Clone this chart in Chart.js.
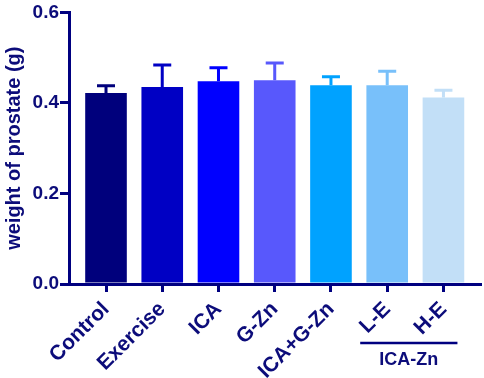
<!DOCTYPE html>
<html>
<head>
<meta charset="utf-8">
<script src="https://cdn.jsdelivr.net/npm/chart.js@4/dist/chart.umd.min.js"></script>
<style>
  html, body { margin: 0; padding: 0; background: #fff; }
</style>
</head>
<body>
<canvas id="myChart" width="484" height="378"></canvas>
<script>
// groups and values
var groups = ['Control', 'Exercise', 'ICA', 'G-Zn', 'ICA+G-Zn', 'L-E', 'H-E'];
var means = [0.422, 0.435, 0.448, 0.450, 0.439, 0.439, 0.412];
var errs = [0.016, 0.049, 0.030, 0.038, 0.019, 0.031, 0.016];
var colors = ['#00007c', '#0000c4', '#0000ff', '#5858fc', '#00a2ff', '#78c0fa', '#c2dff7'];
var yTicks = [0, 0.2, 0.4, 0.6];
var bracketLabel = 'ICA-Zn';

var navy = '#000080';
var textNavy = '#0c0c7a';

var points = [];
for (let i = 0; i < groups.length; i++) {
    points.push({x: i, y: means[i]});
}

// upper error bars, drawn from the scales
var errorBars = {
    id: 'errorBars',
    afterDatasetsDraw: function(chart) {
        var ctx = chart.ctx;
        var xs = chart.scales.x;
        var ys = chart.scales.y;
        ctx.save();
        ctx.lineWidth = 3;
        for (let i = 0; i < means.length; i++) {
            var px = xs.getPixelForValue(i);
            var y0 = ys.getPixelForValue(means[i]);
            var y1 = ys.getPixelForValue(means[i] + errs[i]);
            ctx.strokeStyle = colors[i];
            ctx.beginPath();
            ctx.moveTo(px, y0);
            ctx.lineTo(px, y1);
            ctx.moveTo(px - 9, y1);
            ctx.lineTo(px + 9, y1);
            ctx.stroke();
        }
        ctx.restore();
    }
};

// bracket under L-E and H-E
var bracket = {
    id: 'bracket',
    afterDraw: function(chart) {
        var ctx = chart.ctx;
        var xs = chart.scales.x;
        var x0 = xs.getPixelForValue(5) - 27;
        var x1 = xs.getPixelForValue(6) + 14;
        ctx.save();
        ctx.strokeStyle = navy;
        ctx.lineWidth = 2.5;
        ctx.beginPath();
        ctx.moveTo(x0, 343);
        ctx.lineTo(x1, 343);
        ctx.stroke();
        ctx.fillStyle = textNavy;
        ctx.font = 'bold 18px "Liberation Sans", Arial, sans-serif';
        ctx.textAlign = 'center';
        ctx.textBaseline = 'alphabetic';
        ctx.fillText(bracketLabel, (x0 + x1) / 2, 365);
        ctx.restore();
    }
};

var ctx = document.getElementById('myChart').getContext('2d');
var chart = new Chart(ctx, {
    type: 'bar',
    data: {
        datasets: [{
            data: points,
            backgroundColor: colors,
            borderWidth: 0,
            categoryPercentage: 1,
            barPercentage: 0.74
        }]
    },
    options: {
        responsive: false,
        animation: false,
        devicePixelRatio: 1,
        layout: { padding: { top: 9, right: 4, left: 0, bottom: 0 } },
        plugins: { legend: { display: false }, tooltip: { enabled: false } },
        scales: {
            x: {
                type: 'linear',
                offset: false,
                min: -0.658,
                max: 6.65,
                afterBuildTicks: function(scale) {
                    scale.ticks = groups.map(function(g, i) { return {value: i}; });
                },
                afterFit: function(scale) { scale.height = 94; },
                border: { display: true, color: navy, width: 3 },
                grid: { display: true, offset: false, drawOnChartArea: false, drawTicks: true, tickLength: 8, color: navy, lineWidth: 3 },
                ticks: {
                    autoSkip: false,
                    minRotation: 45,
                    maxRotation: 45,
                    padding: 5,
                    color: textNavy,
                    font: { family: '"Liberation Sans", Arial, sans-serif', size: 21, weight: 'bold' },
                    callback: function(v) { return groups[v]; }
                }
            },
            y: {
                min: 0,
                max: 0.6,
                afterBuildTicks: function(scale) {
                    scale.ticks = yTicks.map(function(v) { return {value: v}; });
                },
                afterFit: function(scale) { scale.width = 69; },
                border: { display: true, color: navy, width: 3 },
                grid: { display: true, drawOnChartArea: false, drawTicks: true, tickLength: 9, color: navy, lineWidth: 3 },
                ticks: {
                    padding: 1,
                    color: textNavy,
                    font: { family: '"Liberation Sans", Arial, sans-serif', size: 19, weight: 'bold' },
                    callback: function(v) { return v.toFixed(1); }
                },
                title: {
                    display: true,
                    text: 'weight of prostate (g)',
                    color: textNavy,
                    padding: { top: 2, bottom: 0 },
                    font: { family: '"Liberation Sans", Arial, sans-serif', size: 20, weight: 'bold' }
                }
            }
        }
    },
    plugins: [errorBars, bracket]
});
</script>
</body>
</html>
